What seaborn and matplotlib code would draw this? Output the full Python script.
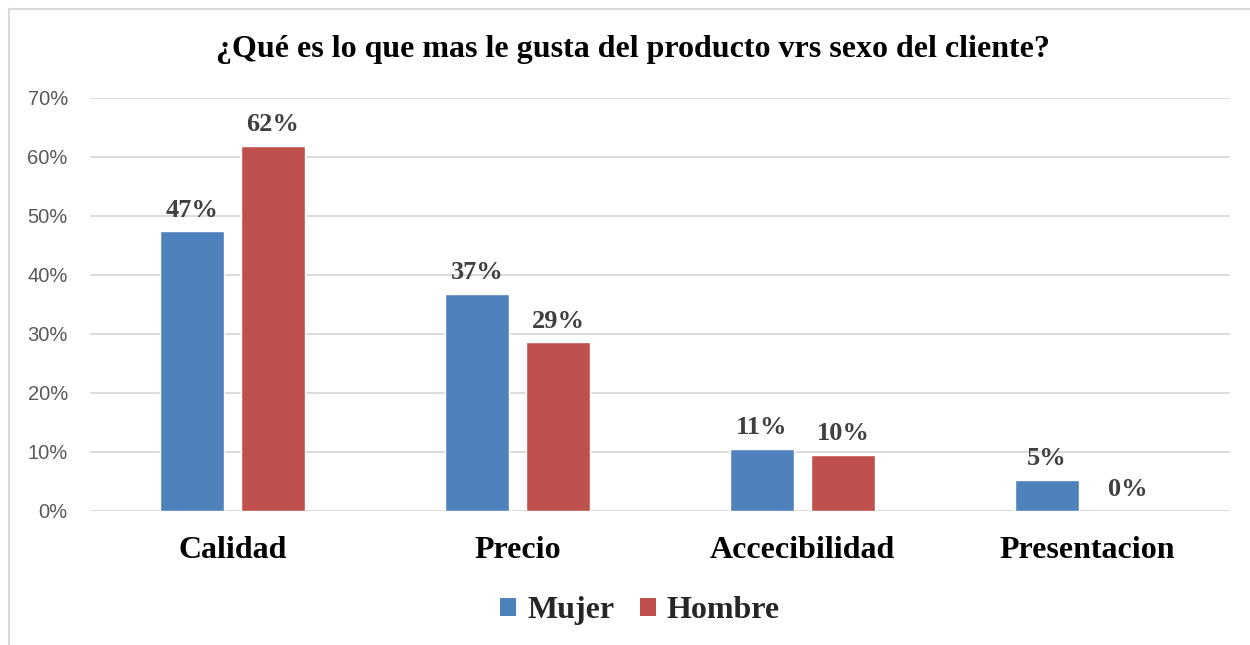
import pandas as pd
import numpy as np
import matplotlib.pyplot as plt
import seaborn as sns
from matplotlib.lines import Line2D
from matplotlib.patches import Patch

# Datos del grafico
categorias = ["Calidad", "Precio", "Accecibilidad", "Presentacion"]
mujer = [0.474, 0.368, 0.105, 0.053]
hombre = [0.619, 0.286, 0.095, 0.0]
etiquetas_mujer = ["47%", "37%", "11%", "5%"]
etiquetas_hombre = ["62%", "29%", "10%", "0%"]
series = ["Mujer", "Hombre"]
yticks = [0, 0.1, 0.2, 0.3, 0.4, 0.5, 0.6, 0.7]

df = pd.DataFrame({
    "categoria": categorias * 2,
    "sexo": ["Mujer"] * 4 + ["Hombre"] * 4,
    "valor": mujer + hombre,
    "etiqueta": etiquetas_mujer + etiquetas_hombre,
})

sns.set_theme(style="white")
plt.rcParams['font.family'] = ['Liberation Serif', 'DejaVu Serif']

colores = {"Mujer": "#4F81BD", "Hombre": "#C0504D"}

fig = plt.figure(figsize=(12.5, 6.45), dpi=100)
ax = fig.add_axes([0.072, 0.2078, 0.912, 0.6403])

sns.barplot(data=df, x="categoria", y="valor", hue="sexo", hue_order=series,
            palette=colores, width=0.568, gap=0.21, ax=ax, legend=False,
            saturation=1)

ax.set_xlim(-0.5, 3.5)
ax.set_ylim(0, 0.7)
ax.set_yticks(yticks)
ax.set_yticklabels([f"{int(round(t*100))}%" for t in yticks],
                   family="Liberation Sans", fontsize=14.5, color="#595959")
ax.yaxis.grid(True, color="#D9D9D9", linewidth=1.3)
ax.set_axisbelow(True)
for s in ax.spines.values():
    s.set_visible(False)
ax.tick_params(axis="y", length=0, pad=16)
ax.tick_params(axis="x", length=0, pad=18)
for lbl in ax.get_xticklabels():
    lbl.set_fontsize(23)
    lbl.set_fontweight("bold")
    lbl.set_color("black")
ax.set_xlabel("")
ax.set_ylabel("")

# etiquetas de datos
for cont, labels in zip(ax.containers, [etiquetas_mujer, etiquetas_hombre]):
    ax.bar_label(cont, labels=labels, padding=7, fontsize=19,
                 fontweight="bold", color="#404040")

fig.text(0.506, 0.924, "¿Qué es lo que mas le gusta del producto vrs sexo del cliente?",
         ha="center", va="center", fontsize=23, fontweight="bold", color="black")

handles = [Patch(facecolor=colores[s], edgecolor="none") for s in series]
fig.legend(handles, series, loc="center", bbox_to_anchor=(0.512, 0.053), ncol=2,
           frameon=False, prop={"size": 23, "weight": "bold"},
           handlelength=0.5, handleheight=0.5, handletextpad=0.35, columnspacing=0.8)

# borde del area del grafico
fig.add_artist(Line2D([0.0072, 0.0072], [0, 0.986], color="#D9D9D9", linewidth=1.5,
                      transform=fig.transFigure))
fig.add_artist(Line2D([0.0072, 1.0], [0.986, 0.986], color="#D9D9D9", linewidth=1.5,
                      transform=fig.transFigure))

fig.savefig("out.png", dpi=100)
